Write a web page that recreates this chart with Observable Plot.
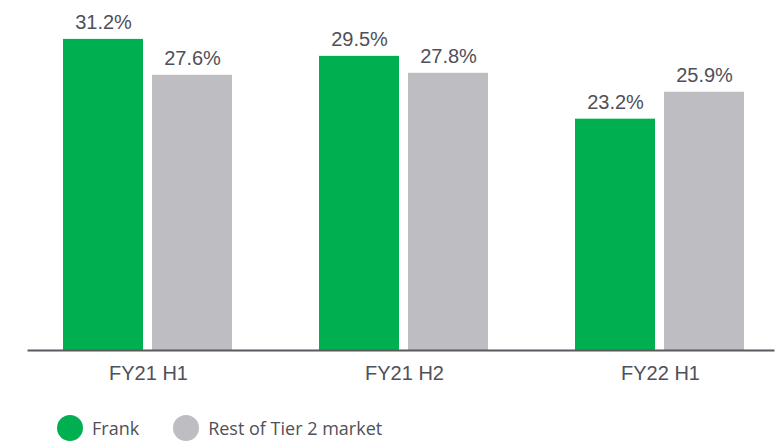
<!DOCTYPE html>
<html>
<head>
<meta charset="utf-8">
<script src="https://cdn.jsdelivr.net/npm/d3@7"></script>
<script src="https://cdn.jsdelivr.net/npm/@observablehq/plot@0.6"></script>
<style>
  body { margin: 0; background: #fff; }
  #legend { display: flex; align-items: center; margin: 15px 0 0 57px; font-family: "Open Sans", sans-serif; font-size: 18px; color: #505058; }
  .item { display: flex; align-items: center; margin-right: 34px; }
  .sw { width: 26px; height: 26px; border-radius: 50%; margin-right: 9px; }
</style>
</head>
<body>
<div id="chart"></div>
<div id="legend"></div>
<script>
const periods = ["FY21 H1", "FY21 H2", "FY22 H1"];
const series = ["Frank", "Rest of Tier 2 market"];
const frank = [31.2, 29.5, 23.2];
const rest = [27.6, 27.8, 25.9];
const colors = ["#00b050", "#bebdc2"];

const data = periods.flatMap((p, i) => [
  {period: p, series: series[0], value: frank[i]},
  {period: p, series: series[1], value: rest[i]}
]);

const chart = Plot.plot({
  width: 779, height: 400,
  marginLeft: 26, marginRight: 5, marginTop: 1, marginBottom: 50,
  style: {fontFamily: "Liberation Sans, Arial, sans-serif", fontSize: "20px", color: "#505058", background: "#fff"},
  fx: {domain: periods, paddingInner: 0.3346, paddingOuter: 0.1226, align: 0.556, label: null, axis: "bottom", tickSize: 0, tickPadding: 15},
  x: {domain: series, axis: null, paddingInner: 0.1, paddingOuter: 0},
  y: {domain: [0, 35], axis: null},
  color: {domain: series, range: colors},
  marks: [
    Plot.barY(data, {fx: "period", x: "series", y: "value", fill: "series"}),
    Plot.text(data, {fx: "period", x: "series", y: "value", text: d => d.value.toFixed(1) + "%", dy: -10, lineAnchor: "bottom", fill: "#505058", fontSize: 20}),
    Plot.frame({anchor: "bottom", facet: "super", stroke: "#595961", strokeWidth: 2, insetLeft: -35, insetRight: -28})
  ]
});
document.getElementById("chart").appendChild(chart);

const legend = document.getElementById("legend");
series.forEach((s, i) => {
  const item = document.createElement("div");
  item.className = "item";
  const sw = document.createElement("span");
  sw.className = "sw";
  sw.style.background = colors[i];
  const label = document.createElement("span");
  label.textContent = s;
  item.appendChild(sw);
  item.appendChild(label);
  legend.appendChild(item);
});
</script>
</body>
</html>
